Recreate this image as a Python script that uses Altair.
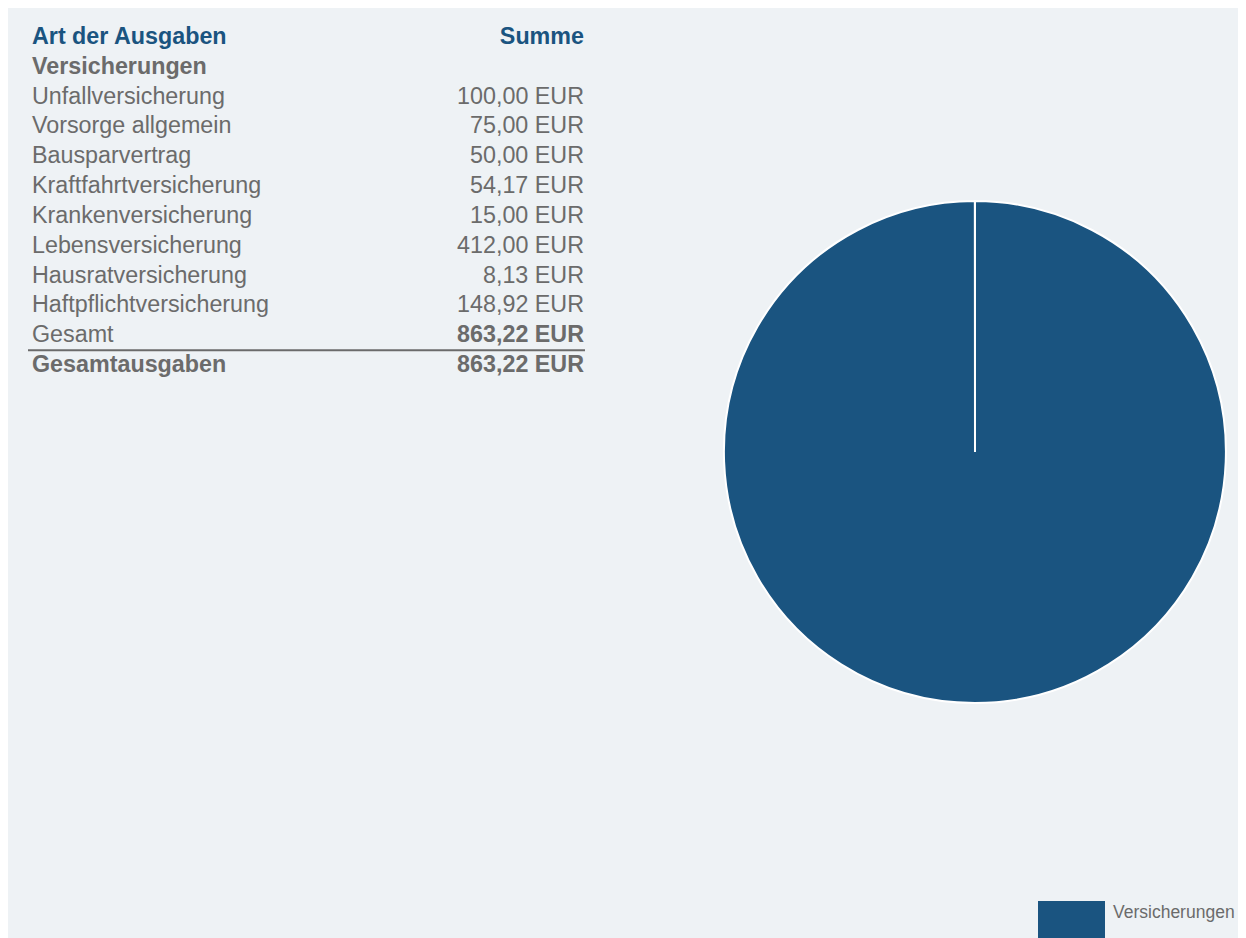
import altair as alt
import pandas as pd

# ---------------- data ----------------
header_left = "Art der Ausgaben"
header_right = "Summe"
group_name = "Versicherungen"
items = [
    "Unfallversicherung",
    "Vorsorge allgemein",
    "Bausparvertrag",
    "Kraftfahrtversicherung",
    "Krankenversicherung",
    "Lebensversicherung",
    "Hausratversicherung",
    "Haftpflichtversicherung",
]
amounts = [100.00, 75.00, 50.00, 54.17, 15.00, 412.00, 8.13, 148.92]
total_label = "Gesamt"
grand_label = "Gesamtausgaben"
currency = "EUR"

# ---------------- styles / layout ----------------
FONT = "Liberation Sans"
FS = 23.3
BLUE = "#1a5480"
GREY = "#6b6b6b"
BG = "#eef2f5"
W, H = 1230, 930          # whole drawing (window width minus page margins)
TABLE_TOP, TABLE_BOTTOM = 14, 372
COL_LEFT, COL_RIGHT = 24, 576
RULE_LEFT, RULE_RIGHT = 20, 577
PIE_CX, PIE_CY, PIE_R = 967, 444, 251


def fmt(v):
    s = f"{v:,.2f}".replace(",", "X").replace(".", ",").replace("X", ".")
    return f"{s} {currency}"


total = round(sum(amounts), 2)
rows = [dict(label=header_left, value=header_right, kind="header"),
        dict(label=group_name, value="", kind="group")]
for n, a in zip(items, amounts):
    rows.append(dict(label=n, value=fmt(a), kind="item"))
rows.append(dict(label=total_label, value=fmt(total), kind="total"))
rows.append(dict(label=grand_label, value=fmt(total), kind="grand"))
for i, r in enumerate(rows):
    r["row"] = i
table_df = pd.DataFrame(rows)

yscale = alt.Scale(domain=list(range(len(rows))), range=[TABLE_TOP, TABLE_BOTTOM],
                   paddingInner=0, paddingOuter=0)
base = alt.Chart(table_df).encode(y=alt.Y("row:O", axis=None, scale=yscale))


def left(filter_expr, bold, color):
    return base.transform_filter(filter_expr).mark_text(
        align="left", baseline="middle", font=FONT, fontSize=FS,
        fontWeight="bold" if bold else "normal", color=color
    ).encode(x=alt.value(COL_LEFT), text="label:N")


def right(filter_expr, bold, color):
    return base.transform_filter(filter_expr).mark_text(
        align="right", baseline="middle", font=FONT, fontSize=FS,
        fontWeight="bold" if bold else "normal", color=color
    ).encode(x=alt.value(COL_RIGHT), text="value:N")


rule = base.transform_filter("datum.kind == 'grand'").mark_rule(
    color=GREY, strokeWidth=2
).encode(
    y=alt.Y("row:O", bandPosition=0, axis=None, scale=yscale),
    x=alt.value(RULE_LEFT),
    x2=alt.value(RULE_RIGHT),
)

pie_df = pd.DataFrame({"group": [group_name] * len(amounts), "amount": amounts})

pie = alt.Chart(pie_df).mark_arc(
    outerRadius=PIE_R, stroke="white", strokeWidth=2
).encode(
    x=alt.value(PIE_CX),
    y=alt.value(PIE_CY),
    theta=alt.Theta("sum(amount):Q", stack=True,
                    scale=alt.Scale(range=[0, 6.2825], nice=False)),
    color=alt.Color(
        "group:N",
        scale=alt.Scale(range=[BLUE]),
        legend=alt.Legend(
            title=None, orient="none", legendX=1030, legendY=871,
            symbolType="M-1,-0.34H1V1.66H-1Z", symbolSize=4489,
            symbolStrokeWidth=0, symbolOpacity=1,
            labelFont=FONT, labelFontSize=17.5, labelColor=GREY,
            labelOffset=8, labelLimit=500, padding=0,
        ),
    ),
)

chart = alt.layer(
    left("datum.kind == 'header'", True, BLUE),
    right("datum.kind == 'header'", True, BLUE),
    left("datum.kind == 'group' || datum.kind == 'grand'", True, GREY),
    left("datum.kind == 'item' || datum.kind == 'total'", False, GREY),
    right("datum.kind == 'item'", False, GREY),
    right("datum.kind == 'total' || datum.kind == 'grand'", True, GREY),
    rule,
    pie,
).properties(
    width=W, height=H, padding=0, background=BG,
    autosize=alt.AutoSizeParams(type="none"),
).configure_view(stroke=None)

chart.save("out.html", embed_options={"renderer": "svg", "actions": False})
